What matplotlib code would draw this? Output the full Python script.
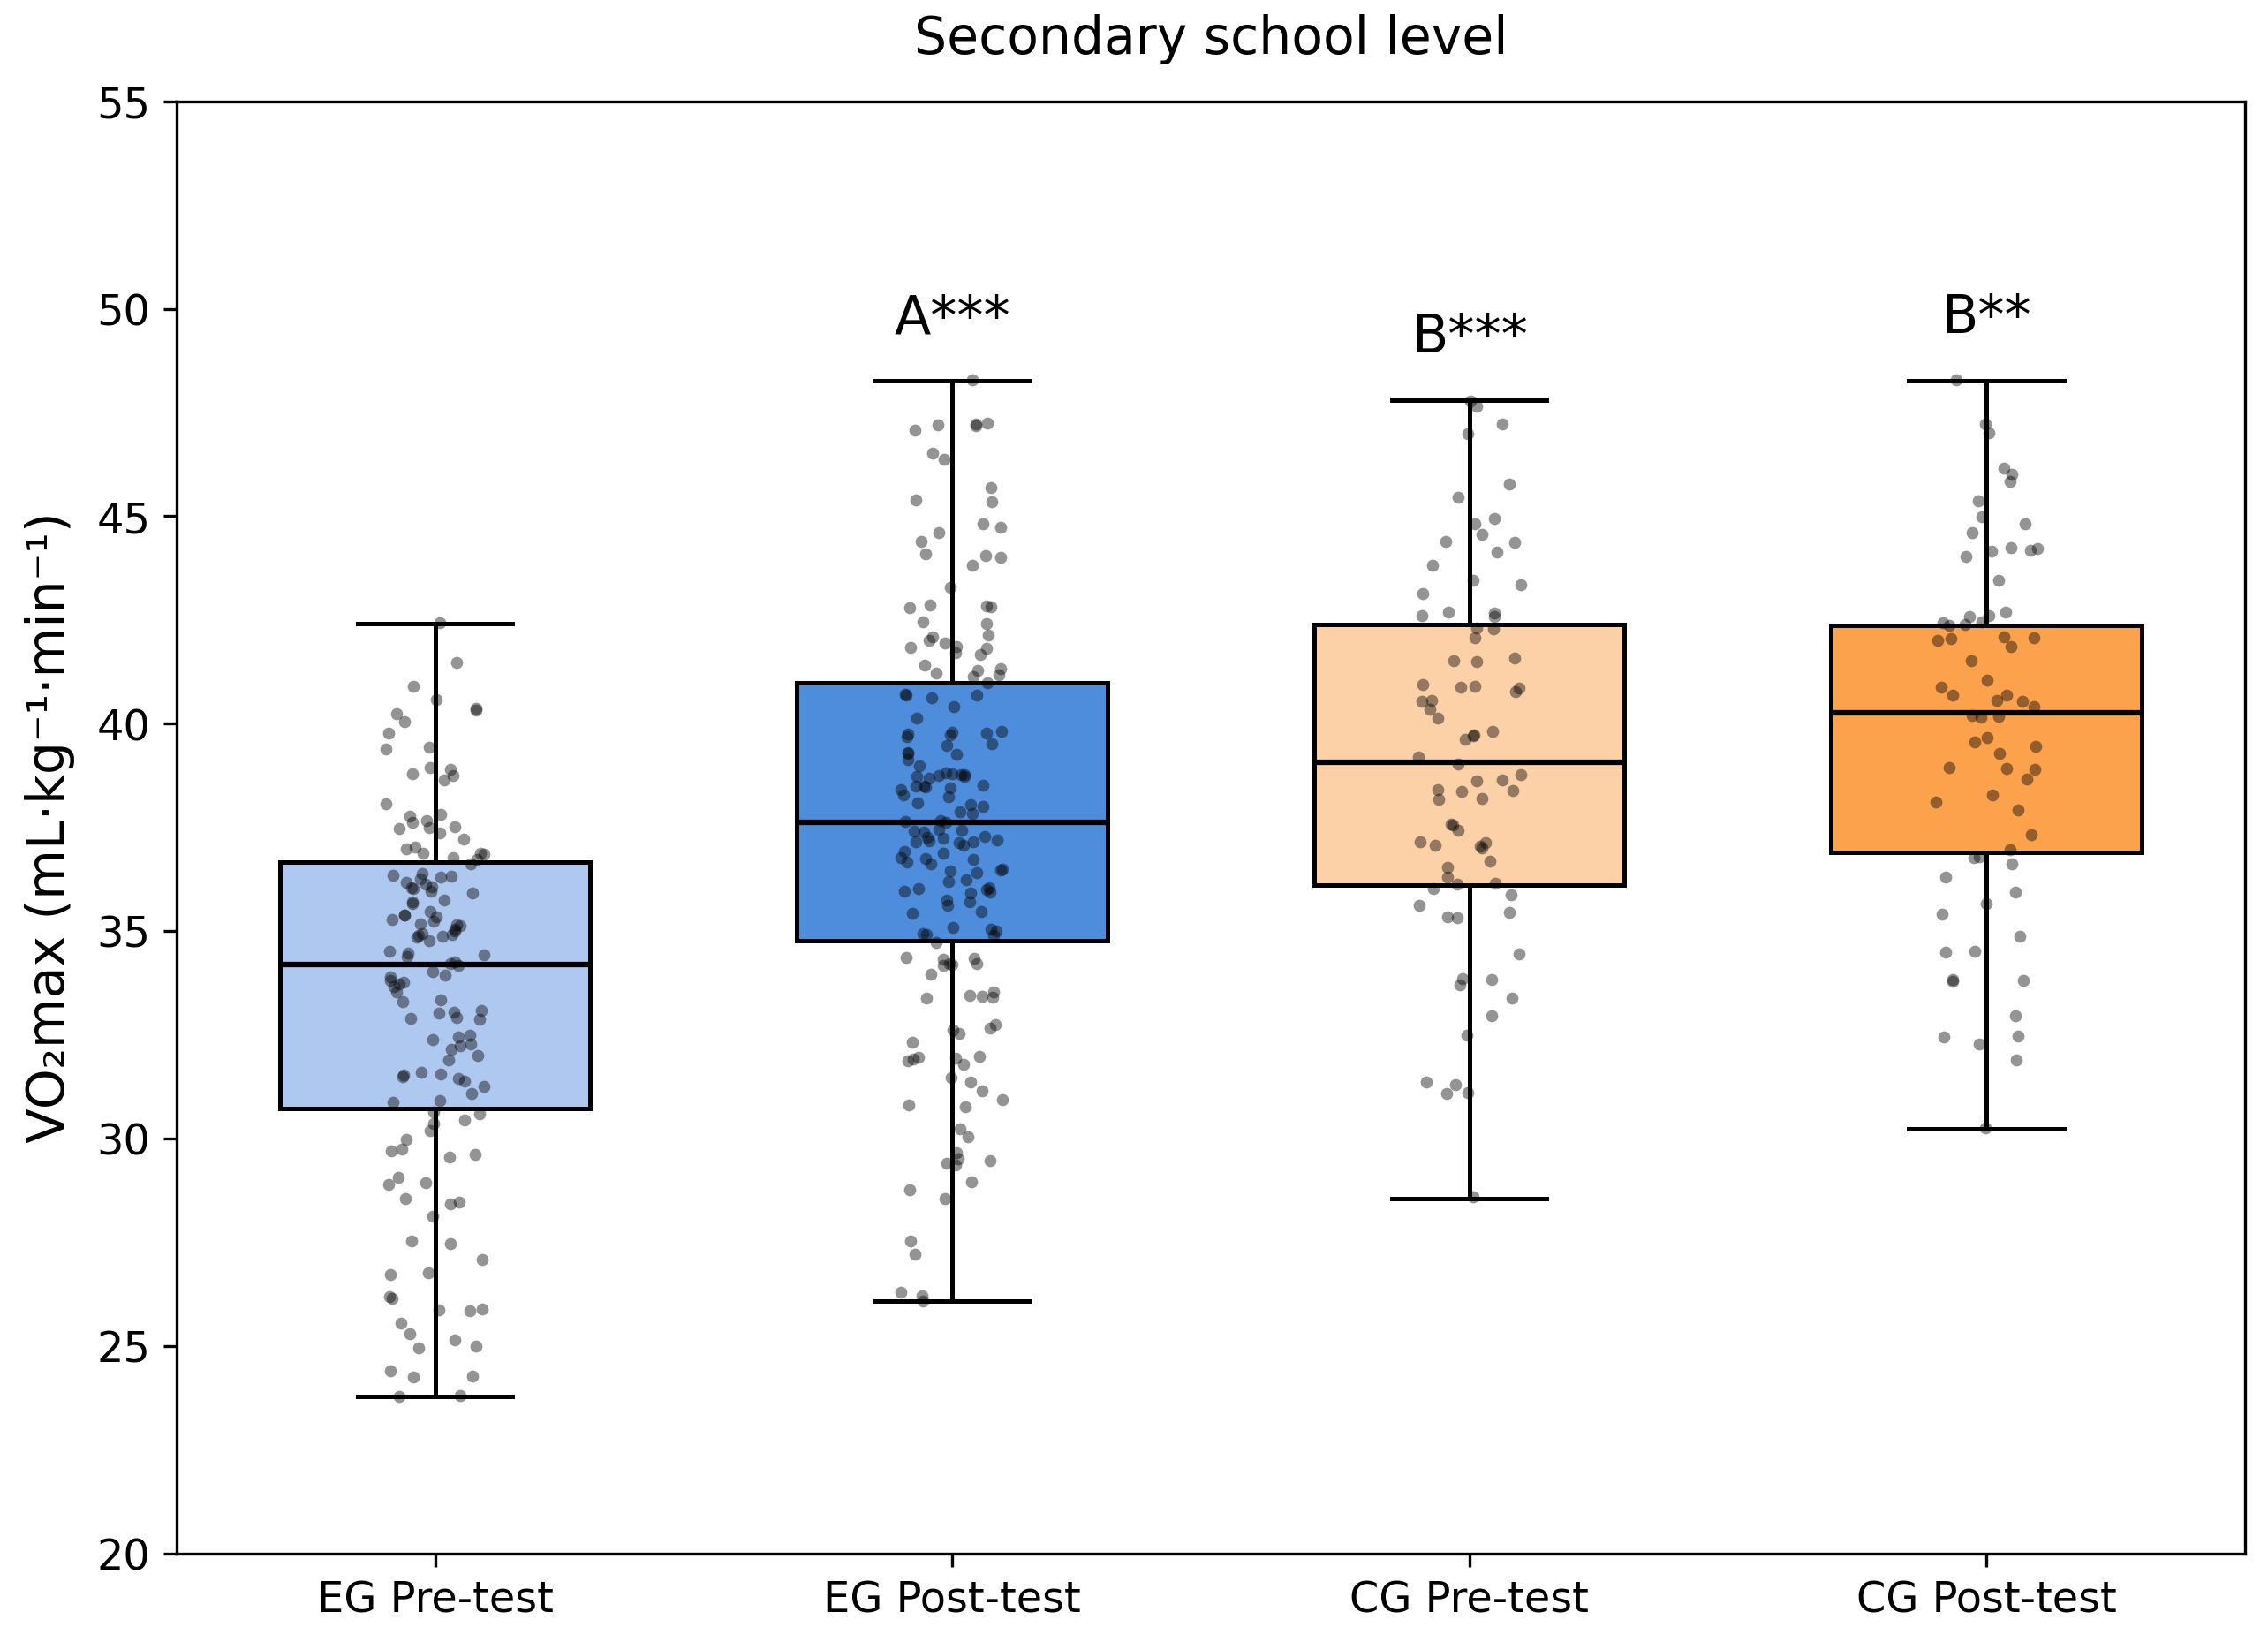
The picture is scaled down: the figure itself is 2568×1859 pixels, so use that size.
import numpy as np
import pandas as pd
import matplotlib
matplotlib.use('Agg')
import matplotlib.pyplot as plt
import seaborn as sns

# CATEGORIES / STYLE
groups = ['EG Pre-test', 'EG Post-test', 'CG Pre-test', 'CG Post-test']
colors = ['#aec8f0', '#4e8cdc', '#fdd1a8', '#fda24c']
sig_labels = ['', 'A***', 'B***', 'B**']

# BOX STATS
q1 = [30.72, 34.78, 36.12, 36.90]
med = [34.20, 37.62, 39.07, 40.27]
q3 = [36.66, 40.98, 42.40, 42.38]
whislo = [23.80, 26.08, 28.56, 30.25]
whishi = [42.42, 48.26, 47.80, 48.26]

# INDIVIDUAL POINTS
eg_pre = [42.44, 41.48, 40.9, 40.59, 40.37, 40.33, 40.24, 40.06, 39.77, 39.44, 39.4,
          38.94, 38.9, 38.8, 38.76, 38.64, 38.07, 37.81, 37.77, 37.66, 37.62, 37.52,
          37.5, 37.47, 37.37, 37.22, 37.02, 36.98, 36.89, 36.87, 36.85, 36.78, 36.74,
          36.62, 36.39, 36.35, 36.32, 36.3, 36.27, 36.18, 36.14, 36.07, 36.05, 36.02,
          35.96, 35.92, 35.75, 35.71, 35.66, 35.48, 35.4, 35.38, 35.35, 35.29, 35.25,
          35.18, 35.16, 35.13, 35.05, 35.01, 34.94, 34.92, 34.9, 34.89, 34.86, 34.77,
          34.52, 34.47, 34.43, 34.39, 34.26, 34.22, 34.18, 34.03, 33.94, 33.9, 33.81,
          33.77, 33.73, 33.67, 33.53, 33.34, 33.3, 33.09, 33.05, 33.03, 32.92, 32.9,
          32.88, 32.49, 32.45, 32.39, 32.28, 32.24, 32.15, 32.0, 31.9, 31.6, 31.56,
          31.54, 31.49, 31.45, 31.4, 31.26, 31.09, 30.92, 30.88,
          30.64, 30.6, 30.45, 30.37, 30.2, 29.98, 29.75, 29.71, 29.63, 29.56, 29.07,
          28.94, 28.9, 28.56, 28.47, 28.43, 28.14, 27.53, 27.47, 27.1, 26.77, 26.73,
          26.2, 26.15, 25.89, 25.87, 25.85, 25.55, 25.3, 25.16, 25.0, 24.96, 24.41,
          24.29, 24.25, 23.82, 23.8]
eg_post = [48.29, 47.24, 47.22, 47.2, 47.18, 47.08, 46.52, 46.37, 45.7, 45.4, 45.36,
           44.82, 44.74, 44.6, 44.39, 44.1, 44.05, 44.01, 43.82, 43.29, 42.86, 42.84,
           42.82, 42.8, 42.46, 42.42, 42.14, 42.1, 42.01, 41.94, 41.86, 41.84, 41.82,
           41.71, 41.67, 41.41, 41.32, 41.28, 41.23, 41.18, 41.14,
           40.99, 40.72, 40.7, 40.68, 40.63, 40.41, 40.14, 39.81, 39.79, 39.77, 39.75,
           39.73, 39.7, 39.52, 39.48, 39.3, 39.28, 39.26, 39.14, 38.99, 38.82, 38.8,
           38.78, 38.77, 38.76, 38.74, 38.73, 38.69, 38.52, 38.5, 38.49, 38.47, 38.45,
           38.41, 38.28, 38.25, 38.09, 38.05, 38.0, 37.88, 37.84, 37.66, 37.64, 37.62,
           37.46, 37.44, 37.42, 37.4, 37.28, 37.26, 37.24, 37.19, 37.17, 37.16, 37.15,
           37.13, 37.08, 36.92, 36.88, 36.78, 36.76, 36.74, 36.67, 36.63, 36.5, 36.48,
           36.46, 36.41, 36.25, 36.21, 36.04, 36.02, 36.0, 35.96, 35.94, 35.92, 35.75,
           35.71, 35.62, 35.47, 35.43, 35.09, 35.05, 35.01, 34.94, 34.92, 34.9,
           34.74, 34.37, 34.35, 34.33, 34.22, 34.21, 34.19, 34.18, 33.96, 33.53, 33.46,
           33.44, 33.42, 33.4, 32.75, 32.66, 32.62, 32.54, 32.32, 31.99, 31.97, 31.95,
           31.92, 31.88, 31.79, 31.47, 31.37, 31.15, 30.94, 30.82, 30.78, 30.24, 30.05,
           29.66, 29.51, 29.47, 29.41, 29.37, 28.96, 28.78, 28.56, 27.53, 27.21, 26.3,
           26.22, 26.1]
cg_pre = [47.78, 47.65, 47.22, 46.98, 45.78, 45.46, 44.95, 44.82, 44.56, 44.39, 44.37,
          44.14, 43.82, 43.46, 43.36, 43.14, 42.69, 42.67, 42.61, 42.58,
          42.3, 42.28, 42.08, 41.58, 41.52, 41.5, 40.95, 40.9, 40.88, 40.86, 40.77,
          40.56, 40.54, 40.35, 40.14, 39.82, 39.74, 39.72, 39.63, 39.2, 39.03, 38.78,
          38.64, 38.62, 38.41, 38.39, 38.37, 38.2, 38.18, 37.58, 37.56, 37.43, 37.16,
          37.14, 37.08, 37.06, 37.0, 36.69, 36.55, 36.3, 36.16, 36.14,
          36.02, 35.88, 35.62, 35.45, 35.35, 35.33, 34.45, 33.86, 33.84, 33.71, 33.39,
          32.96, 32.5, 31.37, 31.3, 31.12, 31.1, 28.6]
cg_post = [48.29, 47.22, 47.01, 46.16, 46.02, 45.84, 45.38, 44.99, 44.82, 44.6, 44.24,
           44.22, 44.18, 44.16, 44.03, 43.46, 42.69, 42.61, 42.59, 42.46, 42.44,
           42.4, 42.38, 42.1, 42.08, 42.06, 42.01, 41.87, 41.52, 41.05, 40.88, 40.7,
           40.68, 40.56, 40.54, 40.41, 40.19, 40.17, 40.15, 39.67, 39.56, 39.45, 39.28,
           38.94, 38.92, 38.9, 38.67, 38.28, 38.11, 37.93, 37.33, 36.97,
           36.79, 36.77, 36.62, 36.3, 35.94, 35.66, 35.41, 34.88, 34.52, 34.5, 33.83,
           33.81, 33.79, 32.96, 32.47, 32.45, 32.29, 31.9, 30.27]

points = [eg_pre, eg_post, cg_pre, cg_post]

# FIGURE
fig = plt.figure(figsize=(8.56, 6.197), dpi=300)
ax = fig.add_axes([0.0778, 0.0537, 0.912, 0.8846])

# BOXES
stats = []
for i, g in enumerate(groups):
    stats.append(dict(label=g, q1=q1[i], med=med[i], q3=q3[i],
                      whislo=whislo[i], whishi=whishi[i], fliers=[]))
line = {'linewidth': 1.2, 'color': 'black'}
bp = ax.bxp(stats, positions=range(len(groups)), widths=0.6, patch_artist=True,
            showfliers=False, boxprops={'linewidth': 1.2, 'edgecolor': 'black'},
            medianprops={'linewidth': 1.5, 'color': 'black'},
            whiskerprops=line, capprops=line)
for patch, c in zip(bp['boxes'], colors):
    patch.set_facecolor(c)

# POINTS
df = pd.DataFrame({
    'group': [g for g, vals in zip(groups, points) for _ in vals],
    'value': [v for vals in points for v in vals],
})
np.random.seed(3)
sns.stripplot(data=df, x='group', y='value', order=groups, color='black',
              alpha=0.42, size=3.3, jitter=0.1, linewidth=0, ax=ax, zorder=3)

# SIGNIFICANCE LABELS
for i, lab in enumerate(sig_labels):
    if lab:
        ax.text(i, whishi[i] + 1.15, lab, ha='center', va='baseline', fontsize=14.5)

ax.set_xlim(-0.5, 3.5)
ax.set_ylim(20, 55)
ax.set_yticks(range(20, 56, 5))
ax.set_xticks(range(len(groups)))
ax.set_xticklabels(groups)
ax.tick_params(labelsize=11.5)
ax.set_xlabel('')
ax.set_ylabel('VO\u2082max (mL\u00b7kg\u207b\u00b9\u00b7min\u207b\u00b9)', fontsize=14, labelpad=6)
ax.set_title('Secondary school level', fontsize=14, pad=13)

plt.savefig('out.png', dpi=300)
